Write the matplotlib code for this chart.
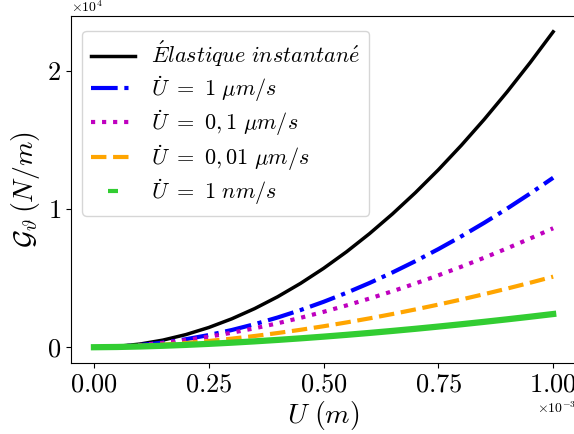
import matplotlib
matplotlib.use("Agg")
import matplotlib.pyplot as plt
from matplotlib.lines import Line2D
import numpy as np

plt.rcParams["font.family"] = "serif"
plt.rcParams["font.serif"] = ["cmr10"]
plt.rcParams["mathtext.fontset"] = "cm"
plt.rcParams["axes.formatter.use_mathtext"] = True

# displacement U (x 1e-3 m)
U = [0.00, 0.05, 0.10, 0.15, 0.20, 0.25, 0.30, 0.35, 0.40, 0.45, 0.50,
     0.55, 0.60, 0.65, 0.70, 0.75, 0.80, 0.85, 0.90, 0.95, 1.00]

# energy release rate G (x 1e4 N/m)
G_elastic = [0.0, 0.0057, 0.0228, 0.0513, 0.0912, 0.1425, 0.2052, 0.2793, 0.3648, 0.4617, 0.5700,
             0.6897, 0.8208, 0.9633, 1.1172, 1.2825, 1.4592, 1.6473, 1.8468, 2.0577, 2.2800]
G_1um = [0.0, 0.0041, 0.0154, 0.0333, 0.0576, 0.0880, 0.1243, 0.1667, 0.2149, 0.2687, 0.3282,
         0.3933, 0.4642, 0.5404, 0.6221, 0.7092, 0.8017, 0.8995, 1.0028, 1.1112, 1.2250]
G_01um = [0.0, 0.0045, 0.0153, 0.0311, 0.0514, 0.0760, 0.1046, 0.1370, 0.1730, 0.2127, 0.2557,
          0.3021, 0.3518, 0.4046, 0.4607, 0.5198, 0.5820, 0.6472, 0.7152, 0.7861, 0.8600]
G_001um = [0.0, 0.0027, 0.0091, 0.0185, 0.0305, 0.0451, 0.0620, 0.0812, 0.1026, 0.1261, 0.1516,
           0.1792, 0.2086, 0.2400, 0.2732, 0.3082, 0.3451, 0.3838, 0.4241, 0.4662, 0.5100]
G_1nm = [0.0, 0.0017, 0.0054, 0.0105, 0.0169, 0.0244, 0.0329, 0.0425, 0.0529, 0.0643, 0.0765,
         0.0895, 0.1033, 0.1179, 0.1332, 0.1493, 0.1661, 0.1836, 0.2017, 0.2205, 0.2400]

labels = [r"$\acute{E}lastique\ instantan\acute{e}$",
          r"$\dot{U}\ =\ 1\ \mu m/s$",
          r"$\dot{U}\ =\ 0,1\ \mu m/s$",
          r"$\dot{U}\ =\ 0,01\ \mu m/s$",
          r"$\dot{U}\ =\ 1\ nm/s$"]

x = np.array(U) * 1e-3

fig = plt.figure(figsize=(5.74, 4.34), dpi=100)
ax = fig.add_axes([0.1237, 0.1636, 0.880, 0.7995])

ax.plot(x, np.array(G_elastic) * 1e4, color="k", lw=2.5)
ax.plot(x, np.array(G_1um) * 1e4, color="b", lw=3, ls="-.")
ax.plot(x, np.array(G_01um) * 1e4, color="m", lw=3, ls=":")
ax.plot(x, np.array(G_001um) * 1e4, color="orange", lw=3, ls="--")
ax.plot(x, np.array(G_1nm) * 1e4, color="limegreen", lw=4.5)

handles = [
    Line2D([], [], color="k", lw=2.5),
    Line2D([], [], color="b", lw=3, ls="-."),
    Line2D([], [], color="m", lw=3, ls=":"),
    Line2D([], [], color="orange", lw=3, ls="--"),
    Line2D([], [], color="limegreen", ls="none", marker="_", ms=7, mew=3),
]
ax.legend(handles, labels, loc="upper left", fontsize=16, handlelength=2.0,
          handletextpad=0.7, borderpad=0.4, labelspacing=0.2,
          bbox_to_anchor=(0.0, 0.99))

ax.set_xticks([0, 0.25e-3, 0.5e-3, 0.75e-3, 1e-3])
ax.set_yticks([0, 1e4, 2e4])
ax.tick_params(labelsize=19)
ax.ticklabel_format(style="sci", axis="both", scilimits=(0, 0), useMathText=True)
ax.xaxis.get_offset_text().set_fontsize(10)
ax.yaxis.get_offset_text().set_fontsize(10)

ax.set_xlabel(r"$U\ (m)$", fontsize=20, labelpad=2)
ax.set_ylabel(r"$\mathcal{G}_\vartheta\,(N/m)$", fontsize=20, labelpad=4)

fig.savefig("out.png", dpi=100)
